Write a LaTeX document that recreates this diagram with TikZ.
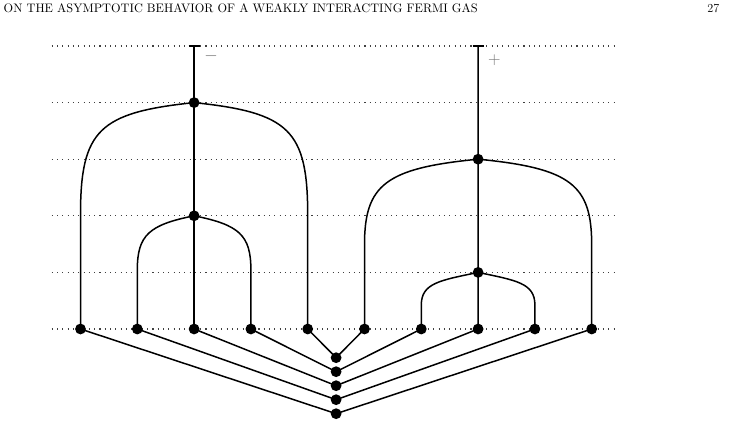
\documentclass[tikz,border=0pt]{standalone}
\usetikzlibrary{calc}
\begin{document}
\begin{tikzpicture}[x=1pt,y=-1pt,
  dot/.style={circle,fill=black,inner sep=0pt,minimum size=10.8pt},
  edge/.style={line width=1.5pt,black},
  grid/.style={line width=1.1pt,black!75,dash pattern=on 1.1pt off 4.2pt},
  sign/.style={text=black!55,inner sep=0pt,font=\fontsize{17}{20}\selectfont}]
\useasboundingbox (0,0) rectangle (742,427);
% header
\node[anchor=base west,inner sep=0pt] (hd) at (3.5,12.5)
  {\resizebox{474pt}{!}{ON THE ASYMPTOTIC BEHAVIOR OF A WEAKLY INTERACTING FERMI GAS}};
\node[anchor=base east,inner sep=0pt,font=\fontsize{12.2}{14}\selectfont] (pg) at (719.5,12.5) {27};
% dotted levels
\foreach \j in {0,...,5}{
  \draw[grid] (51.7,46+56.6*\j) -- (618,46+56.6*\j);
}
% top ends
\coordinate (t1) at (194.1,46);
\coordinate (t2) at (478.1,46);
% vertices
\node[dot] (v1) at (194.1,102.6) {};
\node[dot] (v2) at (194.1,215.8) {};
\node[dot] (v3) at (478.1,159.2) {};
\node[dot] (v4) at (478.1,272.4) {};
\foreach \i in {0,...,9}{
  \node[dot] (b\i) at (80.5+56.8*\i,329) {};
}
\foreach \k in {1,...,5}{
  \node[dot] (s\k) at (336.1,343.7+14*\k) {};
}
% tick bars and signs
\draw[edge,line width=1.8pt] ([xshift=-5.5pt]t1) -- ([xshift=5.5pt]t1);
\draw[edge,line width=1.8pt] ([xshift=-5.5pt]t2) -- ([xshift=5.5pt]t2);
\node[sign] (mi) at (211,55.7) {$-$};
\node[sign] (pl) at (494.3,60) {$+$};
% verticals
\draw[edge] (t1) -- (v1.center) -- (v2.center) -- (b2.center);
\draw[edge] (t2) -- (v3.center) -- (v4.center) -- (b7.center);
% left outer arcs
\draw[edge] (v1.center) .. controls ($(v1)+(-95,10)$) and ($(b0)+(0,-199)$) .. ($(b0)+(0,-114)$) -- (b0.center);
\draw[edge] (v1.center) .. controls ($(v1)+(95,10)$) and ($(b4)+(0,-199)$) .. ($(b4)+(0,-114)$) -- (b4.center);
% left inner arcs
\draw[edge] (v2.center) .. controls ($(v2)+(-45,9)$) and ($(b1)+(0,-94)$) .. ($(b1)+(0,-59)$) -- (b1.center);
\draw[edge] (v2.center) .. controls ($(v2)+(45,9)$) and ($(b3)+(0,-94)$) .. ($(b3)+(0,-59)$) -- (b3.center);
% right outer arcs
\draw[edge] (v3.center) .. controls ($(v3)+(-93,9)$) and ($(b5)+(0,-144)$) .. ($(b5)+(0,-84)$) -- (b5.center);
\draw[edge] (v3.center) .. controls ($(v3)+(93,9)$) and ($(b9)+(0,-144)$) .. ($(b9)+(0,-84)$) -- (b9.center);
% right inner arcs
\draw[edge] (v4.center) .. controls ($(v4)+(-38,8)$) and ($(b6)+(0,-46)$) .. ($(b6)+(0,-24)$) -- (b6.center);
\draw[edge] (v4.center) .. controls ($(v4)+(38,8)$) and ($(b8)+(0,-46)$) .. ($(b8)+(0,-24)$) -- (b8.center);
% bottom fan
\draw[edge] (b4.center) -- (s1.center) -- (b5.center);
\draw[edge] (b3.center) -- (s2.center) -- (b6.center);
\draw[edge] (b2.center) -- (s3.center) -- (b7.center);
\draw[edge] (b1.center) -- (s4.center) -- (b8.center);
\draw[edge] (b0.center) -- (s5.center) -- (b9.center);
\end{tikzpicture}
\end{document}
